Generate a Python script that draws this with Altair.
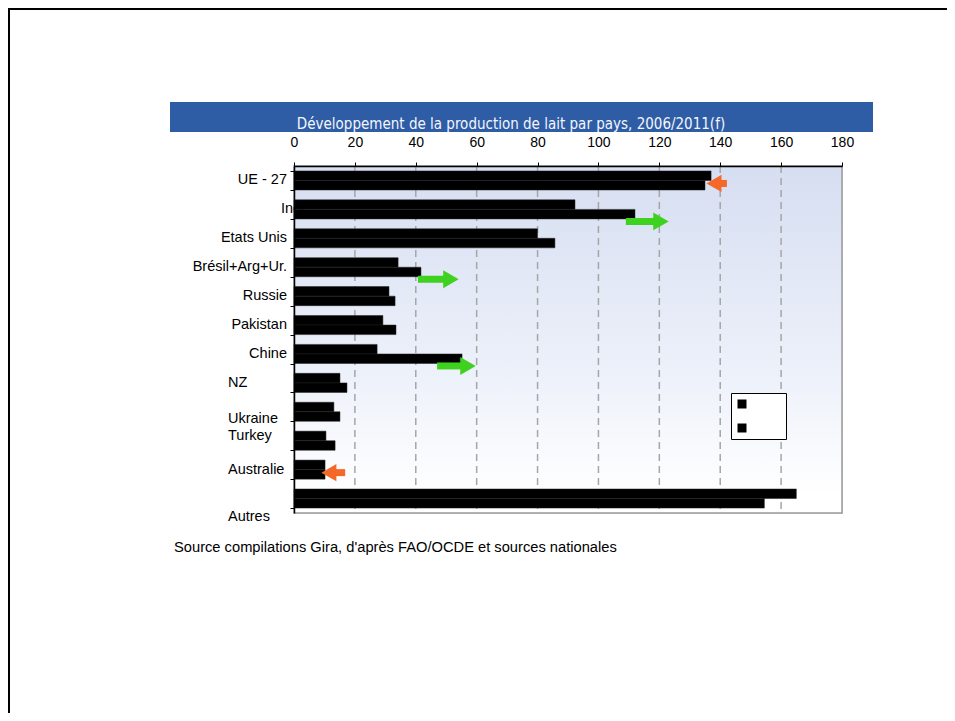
import altair as alt
import pandas as pd

# ---------------- data ----------------
countries = ["UE - 27", "Inde", "Etats Unis", "Brésil+Arg+Ur.", "Russie", "Pakistan",
             "Chine", "NZ", "Ukraine", "Turkey", "Australie", "Autres"]
series = ["2006", "2011(f)"]
prod_2006 = [137, 92.3, 80, 34.2, 31.2, 29.2, 27.3, 15.1, 13.1, 10.5, 10.2, 165]
prod_2011 = [135, 112, 85.7, 41.7, 33.2, 33.5, 55.2, 17.4, 15.1, 13.5, 10.2, 154.5]
x_ticks = [0, 20, 40, 60, 80, 100, 120, 140, 160, 180]
grid_values = [20, 40, 60, 80, 100, 120, 140, 160]

# trend arrows (growth / decline)
up_countries = ["Inde", "Brésil+Arg+Ur.", "Chine"]
up_from = [109, 40.7, 47]
up_to = [123.5, 54.5, 60.1]
down_countries = ["UE - 27", "Australie"]
down_from = [142.2, 16.8]
down_to = [135, 8.5]

title_text = "Développement  de la production de lait par pays, 2006/2011(f)"
source_text = "Source compilations Gira, d'après FAO/OCDE et sources nationales"

# ---------------- tables ----------------
rows = []
for c, a, b in zip(countries, prod_2006, prod_2011):
    rows.append({"country": c, "series": series[0], "value": a})
    rows.append({"country": c, "series": series[1], "value": b})
bars_df = pd.DataFrame(rows)
grid_df = pd.DataFrame({"value": grid_values})
labels_df = pd.DataFrame({"country": countries})
up_df = pd.DataFrame({"country": up_countries, "value": up_from, "value2": up_to})
down_df = pd.DataFrame({"country": down_countries, "value": down_from, "value2": down_to})
one = pd.DataFrame({"a": [0]})

W, H = 548, 347
FONT = "Liberation Sans, Arial, sans-serif"
NARROW = "DejaVu Sans Condensed, Liberation Sans Narrow, sans-serif"

x_enc = alt.X(
    "value:Q",
    scale=alt.Scale(domain=[0, 180], nice=False, zero=True),
    axis=alt.Axis(orient="top", values=x_ticks, title=None, grid=False,
                  labelFont=FONT, labelFontSize=14, labelColor="black",
                  labelFlush=False, labelOverlap=False,
                  domainColor="black", domainWidth=1.5, tickColor="black",
                  tickSize=4, labelPadding=13, zindex=1),
)
y_enc = alt.Y(
    "country:N",
    sort=countries,
    scale=alt.Scale(domain=countries, paddingInner=0.34, paddingOuter=0.17),
    axis=alt.Axis(labels=False, title=None, domainColor="black", domainWidth=1.5,
                  tickColor="black", tickSize=4, tickBand="extent", grid=False, zindex=1),
)

# background gradient panel
bg = alt.Chart(one).mark_rect(
    fill=alt.LinearGradient(
        gradient="linear", x1=0, x2=0, y1=0, y2=1,
        stops=[alt.GradientStop(color="#d6def1", offset=0),
               alt.GradientStop(color="#edf1fa", offset=0.6),
               alt.GradientStop(color="#ffffff", offset=0.95)]),
    stroke="#9a9a9a", strokeWidth=1.5,
).encode(x=alt.value(0), x2=alt.value(W), y=alt.value(0), y2=alt.value(H))

grid = alt.Chart(grid_df).mark_rule(
    strokeDash=[7, 5], color="#a6a6a6", strokeWidth=1.5
).encode(x=x_enc)

def label_layer(names, align, xpix, dy=0):
    return alt.Chart(labels_df).transform_filter(
        alt.FieldOneOfPredicate(field="country", oneOf=names)
    ).mark_text(align=align, baseline="middle", font=FONT, fontSize=14.5,
                color="black", dy=dy).encode(
        y=y_enc, x=alt.value(xpix), text="country:N")

lab_right = label_layer(["UE - 27", "Etats Unis", "Brésil+Arg+Ur.", "Russie", "Pakistan", "Chine"],
                        "right", -7)
lab_inde = label_layer(["Inde"], "left", -13)
lab_left = label_layer(["NZ", "Australie"], "left", -66)
lab_ukr = label_layer(["Ukraine"], "left", -66, 7)
lab_tur = label_layer(["Turkey"], "left", -66, -5)
lab_aut = label_layer(["Autres"], "left", -66, 18)

bars = alt.Chart(bars_df).mark_bar(stroke="#222222", strokeWidth=0.5).encode(
    x=x_enc,
    y=y_enc,
    yOffset=alt.YOffset("series:N", sort=series,
                        scale=alt.Scale(domain=series, paddingInner=0, paddingOuter=0)),
    color=alt.Color("series:N",
                    scale=alt.Scale(domain=series, range=["#000000", "#000000"]),
                    legend=alt.Legend(orient="none", legendX=437, legendY=227,
                                      title=None, fillColor="white", strokeColor="black",
                                      padding=5, symbolType="square", symbolSize=81,
                                      symbolStrokeWidth=0, labelExpr="'MMM'",
                                      labelOpacity=0, labelFontSize=12, labelOffset=3,
                                      rowPadding=12)),
)

GREEN = "#3fd11f"
ORANGE = "#f4692a"
up_shaft = alt.Chart(up_df).mark_rule(color=GREEN, strokeWidth=7, yOffset=12,
                                      x2Offset=-9).encode(
    x=alt.X("value:Q"), x2="value2:Q", y=y_enc)
up_head = alt.Chart(up_df).mark_point(shape="triangle-right", filled=True, opacity=1,
                                      color=GREEN, size=320, yOffset=12,
                                      xOffset=-9).encode(
    x=alt.X("value2:Q"), y=y_enc)
down_shaft = alt.Chart(down_df).mark_rule(color=ORANGE, strokeWidth=7, yOffset=3,
                                          x2Offset=9).encode(
    x=alt.X("value:Q"), x2="value2:Q", y=y_enc)
down_head = alt.Chart(down_df).mark_point(shape="triangle-left", filled=True, opacity=1,
                                          color=ORANGE, size=300, yOffset=3,
                                          xOffset=9).encode(
    x=alt.X("value2:Q"), y=y_enc)

# slide decorations
frame_top = alt.Chart(one).mark_rule(color="black", strokeWidth=2).encode(
    x=alt.value(-286), x2=alt.value(653), y=alt.value(-157))
frame_left = alt.Chart(one).mark_rule(color="black", strokeWidth=2).encode(
    x=alt.value(-285), y=alt.value(-158), y2=alt.value(547))
banner = alt.Chart(one).mark_rect(color="#2e5da6").encode(
    x=alt.value(-124), x2=alt.value(579), y=alt.value(-64), y2=alt.value(-34))
title = alt.Chart(one).mark_text(text=title_text, font=NARROW, fontSize=15,
                                 color="#f4f6fb", align="center",
                                 baseline="alphabetic").encode(
    x=alt.value(217), y=alt.value(-37))
source = alt.Chart(one).mark_text(text=source_text, font=FONT, fontSize=14.7,
                                  color="black", align="left",
                                  baseline="middle").encode(
    x=alt.value(-120), y=alt.value(382))

chart = alt.layer(
    bg, grid, lab_right, lab_inde, lab_left, lab_ukr, lab_tur, lab_aut,
    bars, up_shaft, up_head, down_shaft, down_head,
    frame_top, frame_left, banner, title, source,
).properties(
    width=W, height=H,
    padding={"left": 286, "top": 158, "right": 105, "bottom": 200},
    autosize=alt.AutoSizeParams(type="none"),
).configure_view(stroke=None).configure(background="white")

chart.save("out.html", embed_options={"renderer": "svg", "actions": False})
